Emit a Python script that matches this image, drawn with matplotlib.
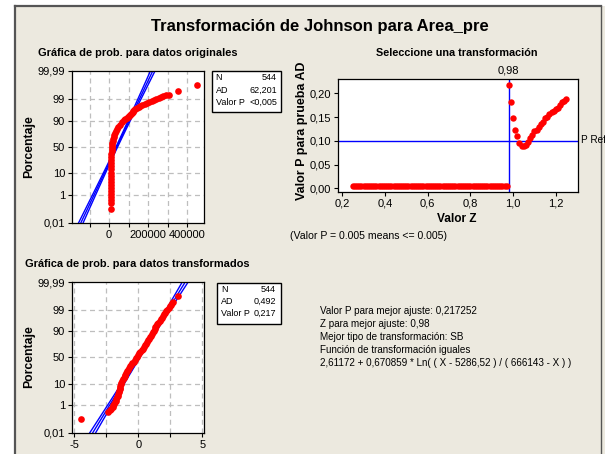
import numpy as np
import matplotlib
matplotlib.use("Agg")
import matplotlib.pyplot as plt
from matplotlib.patches import Rectangle
from matplotlib.lines import Line2D
from matplotlib.ticker import FixedLocator, FixedFormatter, FuncFormatter
from statistics import NormalDist

plt.rcParams['font.family'] = ['Liberation Sans', 'DejaVu Sans']

# ---------------- data ----------------
# original data probability plot (value, percent)
orig_values = [9500, 9500, 9700, 9800, 9900, 10000, 10100, 10200, 10300, 10400,
               10500, 10600, 10800, 11000, 11200, 11500, 11800, 12200, 12700, 13200,
               14000, 15000, 16500, 18500, 21000, 24000, 27000, 30500, 35000, 40000,
               47000, 55000, 65000, 78000, 84000, 91000, 97000, 103000, 108000, 113000,
               117000, 121000, 124000, 128000, 135000, 143000, 152000, 161000, 171000, 182000,
               195000, 207000, 219000, 231000, 243000, 254000, 265000, 278000, 292000, 309000,
               354000, 451000]
orig_pct = [0.13, 0.30, 0.47, 0.71, 1.07, 1.58, 2.28, 3.22, 4.46, 6.06,
            8.08, 10.56, 13.57, 17.11, 21.19, 25.78, 30.85, 36.32, 42.07, 46.02,
            50.0, 53.98, 57.93, 61.79, 65.54, 69.15, 72.57, 75.80, 78.81, 81.59,
            84.13, 86.43, 88.49, 90.32, 91.15, 91.92, 92.65, 93.32, 93.94, 94.52,
            95.05, 95.54, 95.99, 96.41, 96.78, 97.13, 97.44, 97.72, 97.98, 98.21,
            98.42, 98.61, 98.78, 98.93, 99.06, 99.18, 99.29, 99.38, 99.45, 99.49,
            99.67, 99.87]
orig_mean, orig_sd, n_obs = 39500.0, 49600.0, 544

# transformed data probability plot (value, percent)
trans_values = [-4.49, -2.34,
                -2.22, -2.10, -1.98, -1.93, -1.88, -1.80, -1.76, -1.70, -1.64, -1.57,
                -1.55, -1.52, -1.48, -1.45, -1.42, -1.39, -1.35, -1.31, -1.26, -1.19,
                -1.12, -1.05, -1.00, -0.94, -0.87, -0.79, -0.72, -0.63, -0.55, -0.46,
                -0.37, -0.26, -0.14, -0.06, 0.01, 0.09, 0.17, 0.26, 0.35, 0.43,
                0.51, 0.59, 0.67, 0.76, 0.85, 0.94, 1.02, 1.09, 1.15, 1.21,
                1.27, 1.33, 1.40, 1.48, 1.57, 1.66, 1.74, 1.82, 1.90, 1.98,
                2.08, 2.18, 2.27, 2.36, 2.45, 2.55, 2.65,
                2.73, 3.07]
trans_pct = [0.13, 0.37,
             0.466, 0.587, 0.734, 0.914, 1.130, 1.390, 1.700, 2.068, 2.500, 3.005,
             3.593, 4.272, 5.050, 5.938, 6.944, 8.076, 9.342, 10.749, 12.302, 14.007,
             15.866, 17.879, 20.045, 22.363, 24.825, 27.425, 30.153, 32.997, 35.942, 38.974,
             42.074, 45.224, 48.405, 51.595, 54.776, 57.926, 61.026, 64.058, 67.003, 69.847,
             72.575, 75.175, 77.637, 79.955, 82.121, 84.134, 85.993, 87.698, 89.251, 90.658,
             91.924, 93.056, 94.062, 94.950, 95.728, 96.407, 96.995, 97.500, 97.932, 98.300,
             98.610, 98.870, 99.086, 99.266, 99.413, 99.534, 99.632,
             99.69, 99.88]
trans_mean, trans_sd = 0.05, 0.97

# Johnson z search
z_values = [0.25, 0.26, 0.27, 0.28, 0.29, 0.30, 0.31, 0.32, 0.33, 0.34, 0.35, 0.36, 0.37, 0.38, 0.39,
            0.40, 0.41, 0.42, 0.43, 0.44, 0.45, 0.46, 0.47, 0.48, 0.49, 0.50, 0.51, 0.52, 0.53, 0.54,
            0.55, 0.56, 0.57, 0.58, 0.59, 0.60, 0.61, 0.62, 0.63, 0.64, 0.65, 0.66, 0.67, 0.68, 0.69,
            0.70, 0.71, 0.72, 0.73, 0.74, 0.75, 0.76, 0.77, 0.78, 0.79, 0.80, 0.81, 0.82, 0.83, 0.84,
            0.85, 0.86, 0.87, 0.88, 0.89, 0.90, 0.91, 0.92, 0.93, 0.94, 0.95, 0.96, 0.97,
            0.98, 0.99, 1.00, 1.01, 1.02, 1.03, 1.04, 1.05, 1.06, 1.07, 1.08, 1.09, 1.10,
            1.11, 1.12, 1.13, 1.14, 1.15, 1.16, 1.17, 1.18, 1.19, 1.20, 1.21, 1.22, 1.23, 1.24, 1.25]
p_values = [0.005] * 73 + [
            0.217, 0.182, 0.147, 0.123, 0.110, 0.095, 0.089, 0.090, 0.092, 0.097, 0.105, 0.113, 0.121,
            0.123, 0.130, 0.135, 0.140, 0.147, 0.151, 0.156, 0.160, 0.163, 0.166, 0.169, 0.175, 0.181,
            0.184, 0.187]
best_z = 0.98
p_ref = 0.10

prob_ticks = [0.01, 1, 10, 50, 90, 99, 99.99]
prob_labels = ['0,01', '1', '10', '50', '90', '99', '99,99']

# ---------------- helpers ----------------
W, H = 605, 454
def fx(x): return x / W
def fy(y): return 1 - y / H

nd = NormalDist()
_inv = np.vectorize(lambda v: nd.inv_cdf(v), otypes=[float])
_cdf = np.vectorize(lambda v: nd.cdf(v), otypes=[float])

def fwd(p):
    p = np.clip(np.asarray(p, dtype=float), 1e-7, 100 - 1e-7)
    return _inv(p / 100.0)

def inv(z):
    return _cdf(np.asarray(z, dtype=float)) * 100.0

RED = '#FF0000'
BLUE = '#0000FF'
GRID = '#BEBEBE'
BG = '#ECE9DF'

fig = plt.figure(figsize=(6.05, 4.54), dpi=100)
fig.patch.set_facecolor('white')
fig.add_artist(Rectangle((fx(15), 0), 1, fy(6), transform=fig.transFigure,
                         facecolor=BG, edgecolor='none', zorder=-10))
fig.add_artist(Line2D([fx(15), fx(15)], [0, fy(6)], color='#555555', lw=1.6))
fig.add_artist(Line2D([fx(15), fx(601)], [fy(6), fy(6)], color='#555555', lw=1.6))
fig.add_artist(Line2D([fx(601), fx(601)], [0, fy(6)], color='#555555', lw=1.0))


def style_axes(ax):
    for s in ax.spines.values():
        s.set_linewidth(0.9)
        s.set_color('black')
    ax.tick_params(direction='out', length=3, width=0.8, labelsize=8, pad=2, colors='black')


def prob_plot(ax, vals, pct, mu, sd, xlim, xgrid, xlabels):
    ax.set_yscale('function', functions=(fwd, inv))
    ax.set_ylim(0.01, 99.99)
    ax.set_xlim(*xlim)
    ax.yaxis.set_major_locator(FixedLocator(prob_ticks))
    ax.yaxis.set_major_formatter(FixedFormatter(prob_labels))
    ax.yaxis.set_minor_locator(FixedLocator([]))
    ax.xaxis.set_major_locator(FixedLocator(xgrid))
    ax.xaxis.set_major_formatter(FixedFormatter(xlabels))
    for g in xgrid:
        ax.axvline(g, color=GRID, lw=0.9, dashes=(4, 3), zorder=0)
    for t in prob_ticks[1:-1]:
        ax.axhline(t, color=GRID, lw=0.9, dashes=(4, 3), zorder=0)
    # fitted line with confidence bands
    pl = np.array([0.005, 0.01, 0.05, 0.2, 1, 5, 20, 50, 80, 95, 99, 99.8, 99.95, 99.99, 99.995])
    zl = fwd(pl)
    xc = mu + sd * zl
    se = 1.96 * sd * np.sqrt(1.0 / n_obs + zl ** 2 / (2.0 * n_obs))
    for off in (-se, 0 * se, se):
        ax.plot(xc + off, pl, color=BLUE, lw=1.0, zorder=2, clip_on=True)
    ax.plot(vals, pct, 'o', color=RED, ms=4.8, mec=RED, mew=0, zorder=3)
    style_axes(ax)


# ---------------- ax1 ----------------
ax1 = fig.add_axes([fx(72), fy(223), fx(204) - fx(72), fy(71) - fy(223)])
prob_plot(ax1, orig_values, orig_pct, orig_mean, orig_sd, (-190000, 487000),
          [-100000, 0, 100000, 200000, 300000, 400000],
          ['', '0', '', '200000', '', '400000'])

# ---------------- ax3 ----------------
ax3 = fig.add_axes([fx(72), fy(433), fx(204) - fx(72), fy(282) - fy(433)])
prob_plot(ax3, trans_values, trans_pct, trans_mean, trans_sd, (-5.16, 5.12),
          [-5, -2.5, 0, 2.5, 5], ['-5', '', '0', '', '5'])

# ---------------- ax2 ----------------
ax2 = fig.add_axes([fx(338), fy(192), fx(578) - fx(338), fy(79) - fy(192)])
ax2.set_xlim(0.18, 1.304)
ax2.set_ylim(-0.0078, 0.230)
ax2.xaxis.set_major_locator(FixedLocator([0.2, 0.4, 0.6, 0.8, 1.0, 1.2]))
ax2.yaxis.set_major_locator(FixedLocator([0.0, 0.05, 0.10, 0.15, 0.20]))
ax2.xaxis.set_major_formatter(FuncFormatter(lambda v, p: f"{v:.1f}".replace('.', ',')))
ax2.yaxis.set_major_formatter(FuncFormatter(lambda v, p: f"{v:.2f}".replace('.', ',')))
ax2.axhline(p_ref, color=BLUE, lw=1.0, zorder=1)
ax2.axvline(best_z, color=BLUE, lw=1.0, zorder=1)
ax2.plot(z_values, p_values, 'o', color=RED, ms=4.6, mew=0, zorder=3)
style_axes(ax2)
ax2.text(best_z, 1.035, '0,98', transform=ax2.get_xaxis_transform(), ha='center',
         va='bottom', fontsize=8)
fig.text(fx(581), fy(140), 'P Ref', ha='left', va='center', fontsize=7.2)

# ---------------- texts ----------------
fig.text(fx(320), fy(27), 'Transformación de Johnson para Area_pre', ha='center', va='center',
         fontsize=12.0, fontweight='bold')
fig.text(fx(38), fy(53), 'Gráfica de prob. para datos originales', ha='left', va='center',
         fontsize=7.9, fontweight='bold')
fig.text(fx(457), fy(53), 'Seleccione una transformación', ha='center', va='center',
         fontsize=7.8, fontweight='bold')
fig.text(fx(25), fy(264), 'Gráfica de prob. para datos transformados', ha='left', va='center',
         fontsize=7.9, fontweight='bold')
fig.text(fx(29.5), fy(147), 'Porcentaje', rotation=90, ha='center', va='center',
         fontsize=8.8, fontweight='bold')
fig.text(fx(29.5), fy(357), 'Porcentaje', rotation=90, ha='center', va='center',
         fontsize=8.8, fontweight='bold')
fig.text(fx(301.5), fy(131), 'Valor P para prueba AD', rotation=90, ha='center', va='center',
         fontsize=9.0, fontweight='bold')
fig.text(fx(457), fy(219), 'Valor Z', ha='center', va='center', fontsize=8.6, fontweight='bold')
fig.text(fx(290), fy(236), '(Valor P = 0.005 means <= 0.005)', ha='left', va='center', fontsize=7.6)

# stats boxes
def stat_box(x0, y0, x1, y1, rows, xl, xr, ys):
    fig.add_artist(Rectangle((fx(x0), fy(y1)), fx(x1) - fx(x0), fy(y0) - fy(y1),
                             transform=fig.transFigure, facecolor='white',
                             edgecolor='black', lw=1.0))
    for (lab, val), yy in zip(rows, ys):
        fig.text(fx(xl), fy(yy), lab, ha='left', va='center', fontsize=6.5)
        fig.text(fx(xr), fy(yy), val, ha='right', va='center', fontsize=6.5)

stat_box(212, 71, 281, 112, [('N', '544'), ('AD', '62,201'), ('Valor P', '<0,005')],
         215.5, 277, [78, 90.5, 102.5])
stat_box(217, 283, 281, 324, [('N', '544'), ('AD', '0,492'), ('Valor P', '0,217')],
         221, 276, [289.5, 301.5, 313.5])

info_lines = ['Valor P para mejor ajuste: 0,217252',
              'Z para mejor ajuste: 0,98',
              'Mejor tipo de transformación: SB',
              'Función de transformación iguales',
              '2,61172 + 0,670859 * Ln( ( X - 5286,52 ) / ( 666143 - X ) )']
for i, line in enumerate(info_lines):
    fig.text(fx(320.5), fy(310.5 + 13.1 * i), line, ha='left', va='center', fontsize=7.1)

fig.savefig('out.png', dpi=100)
